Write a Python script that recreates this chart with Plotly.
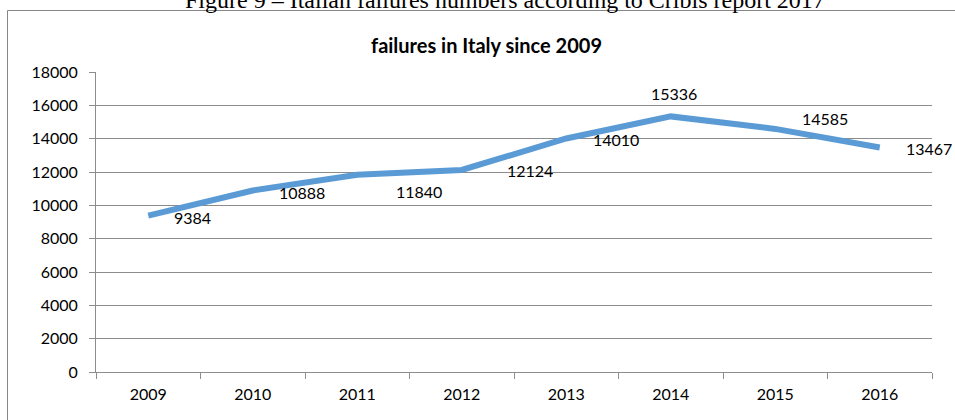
import plotly.graph_objects as go

years = ["2009", "2010", "2011", "2012", "2013", "2014", "2015", "2016"]
failures = [9384, 10888, 11840, 12124, 14010, 15336, 14585, 13467]
y_ticks = [0, 2000, 4000, 6000, 8000, 10000, 12000, 14000, 16000, 18000]
chart_title = "failures in Italy since 2009"
caption = "Figure 9 \u2013 Italian failures numbers according to Cribis report 2017"

# label placement (pixel offsets from each point): style only
label_dx = [24, 24, 37, 43, 25, -22, 25, 24]
label_dy = [-2, -2, -17, -1, -1, 23, 10, -1]

W, H = 955, 420
ML, MR, MT, MB = 96, 23, 72, 48
PW = W - ML - MR
PH = H - MT - MB


def px(x):
    return (x - ML) / PW


def py(y):
    return (H - MB - y) / PH


FONT = "Lato"
GRID = "#8c8c8c"

fig = go.Figure()
fig.add_trace(go.Scatter(
    x=years, y=failures, mode="lines",
    line=dict(color="#5B9BD5", width=6, shape="linear"),
    hoverinfo="x+y", showlegend=False,
))

annotations = []
for i, (v, dx, dy) in enumerate(zip(failures, label_dx, label_dy)):
    annotations.append(dict(
        x=i, y=v, xref="x", yref="y", text=str(v), showarrow=False,
        xanchor="left", yanchor="middle", xshift=dx, yshift=dy,
        font=dict(family=FONT, size=16, color="#000000"),
    ))

annotations.append(dict(
    x=px(486), y=py(45), xref="paper", yref="paper", text="<b>" + chart_title + "</b>",
    showarrow=False, xanchor="center", yanchor="middle",
    font=dict(family=FONT, size=20, color="#000000"),
))
annotations.append(dict(
    x=px(505), y=py(0), xref="paper", yref="paper", text=caption,
    showarrow=False, xanchor="center", yanchor="middle",
    font=dict(family="Liberation Serif", size=24, color="#000000"),
))

fig.update_layout(
    width=W, height=H,
    margin=dict(l=ML, r=MR, t=MT, b=MB),
    paper_bgcolor="white", plot_bgcolor="white",
    annotations=annotations,
    shapes=[dict(
        type="rect", xref="paper", yref="paper",
        x0=px(7.5), x1=px(970), y0=py(440), y1=py(10.5),
        line=dict(color="#878787", width=1), fillcolor="rgba(0,0,0,0)", layer="below",
    )],
    xaxis=dict(
        type="category", tickson="boundaries", ticks="outside", ticklen=6,
        tickcolor=GRID, showline=True, linecolor=GRID, linewidth=1,
        showgrid=False, tickfont=dict(family=FONT, size=16, color="#000000"),
        ticklabelstandoff=8, range=[-0.5, 7.5],
    ),
    yaxis=dict(
        range=[0, 18000], tickvals=y_ticks, tickformat="d", ticks="outside", ticklen=6,
        tickcolor=GRID, showline=True, linecolor=GRID, linewidth=1,
        showgrid=True, gridcolor=GRID, gridwidth=1, zeroline=False,
        tickfont=dict(family=FONT, size=16, color="#000000"),
        ticklabelstandoff=8,
    ),
)

fig.write_html("out.html")
